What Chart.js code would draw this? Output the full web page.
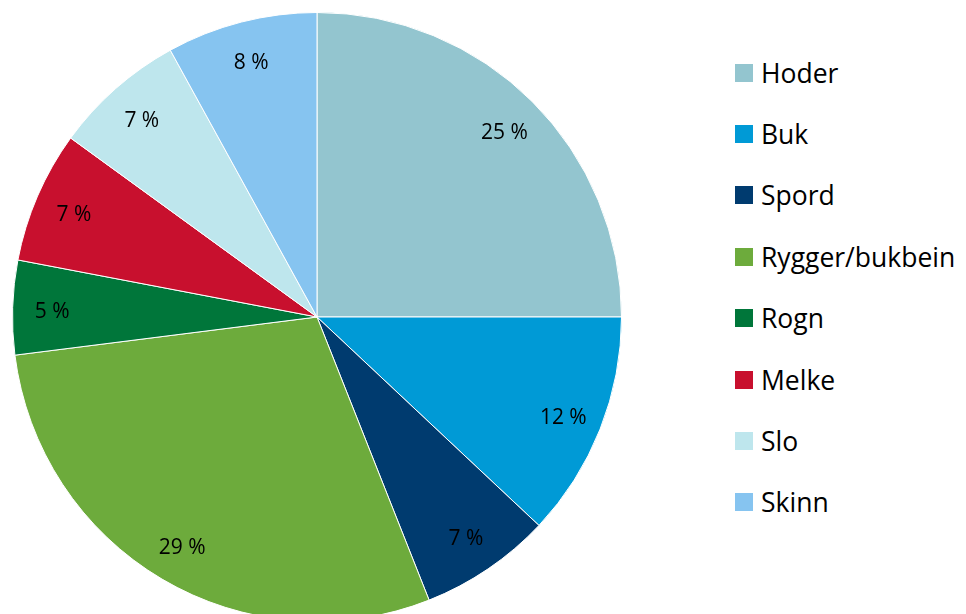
<!DOCTYPE html>
<html>
<head>
<meta charset="utf-8">
<script src="https://cdn.jsdelivr.net/npm/chart.js@4/dist/chart.umd.min.js"></script>
<style>
  html, body { margin: 0; padding: 0; background: #fff; width: 966px; height: 614px; overflow: hidden; }
  #wrap { position: absolute; left: 0; top: 0; width: 634px; height: 634px; }
  #legend { position: absolute; left: 735px; top: 42px; font-family: "Open Sans", Lato, sans-serif; font-size: 26.5px; color: #000; white-space: nowrap; }
  .item { height: 61.4px; display: flex; align-items: center; }
  .sw { width: 18px; height: 18px; margin-right: 8px; flex: none; }
</style>
</head>
<body>
<div id="wrap"><canvas id="c" width="634" height="634"></canvas></div>
<div id="legend"></div>
<script>
const categories = ["Hoder", "Buk", "Spord", "Rygger/bukbein", "Rogn", "Melke", "Slo", "Skinn"];
const shares = [25, 12, 7, 29, 5, 7, 7, 8];
const colors = ["#93C5CF", "#009AD6", "#003B6F", "#6DAB3C", "#00763A", "#C8102E", "#BEE6ED", "#86C4F0"];

const legendEl = document.getElementById('legend');
categories.forEach((name, i) => {
  const row = document.createElement('div');
  row.className = 'item';
  const sw = document.createElement('span');
  sw.className = 'sw';
  sw.style.background = colors[i];
  const t = document.createElement('span');
  t.textContent = name;
  row.appendChild(sw); row.appendChild(t);
  legendEl.appendChild(row);
});

const sliceLabels = {
  id: 'sliceLabels',
  afterDatasetsDraw(chart) {
    const ctx = chart.ctx;
    const meta = chart.getDatasetMeta(0);
    const data = chart.data.datasets[0].data;
    ctx.save();
    ctx.font = '21px "Open Sans", Lato, sans-serif';
    ctx.fillStyle = '#000';
    ctx.textAlign = 'center';
    ctx.textBaseline = 'middle';
    meta.data.forEach((arc, i) => {
      const p = arc.getProps(['x', 'y', 'startAngle', 'endAngle', 'outerRadius'], true);
      const mid = (p.startAngle + p.endAngle) / 2;
      const r = p.outerRadius * 0.87;
      ctx.fillText(data[i] + ' %', p.x + Math.cos(mid) * r, p.y + Math.sin(mid) * r + 3);
    });
    ctx.restore();
  }
};

new Chart(document.getElementById('c'), {
  type: 'pie',
  data: {
    labels: categories,
    datasets: [{
      data: shares,
      backgroundColor: colors,
      borderColor: '#ffffff',
      borderWidth: 1
    }]
  },
  options: {
    responsive: false,
    animation: false,
    events: [],
    layout: { padding: 12 },
    plugins: {
      legend: { display: false },
      tooltip: { enabled: false }
    }
  },
  plugins: [sliceLabels]
});
</script>
</body>
</html>
